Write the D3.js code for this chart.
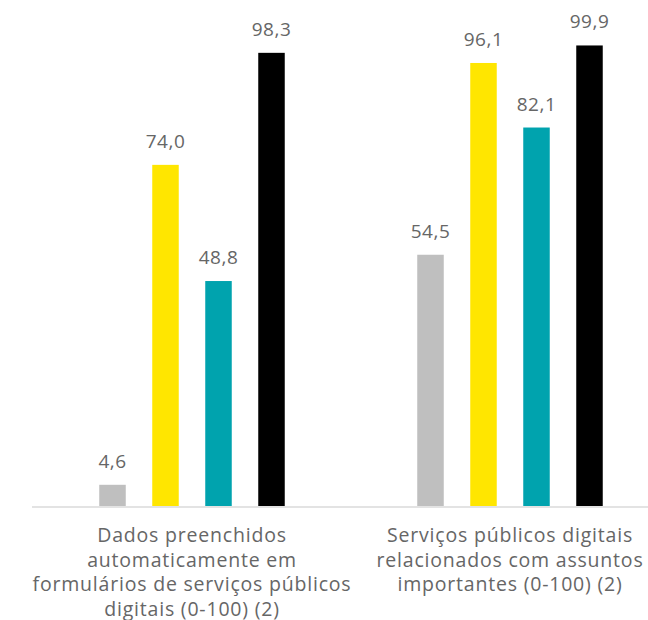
<!DOCTYPE html>
<html>
<head>
    <meta charset="utf-8">
    <title></title>
    <script src="https://d3js.org/d3.v7.min.js"></script>
    <style>
        body { margin: 0; background: #fff; }
        text { font-family: "Open Sans", sans-serif; }
    </style>
</head>
<body>
    <svg id="chart" width="648" height="620"></svg>

    <script>
    // categories (each label split in lines)
    let categories = [
        ["Dados preenchidos", "automaticamente em", "formulários de serviços públicos", "digitais (0-100) (2)"],
        ["Serviços públicos digitais", "relacionados com assuntos", "importantes (0-100) (2)"]
    ];
    let series = ["s1", "s2", "s3", "s4"];
    let colors = ["#bfbfbf", "#ffe600", "#00a3ae", "#000000"];
    // values by category, in series order
    let values = [
        [4.6, 74.0, 48.8, 98.3],
        [54.5, 96.1, 82.1, 99.9]
    ];

    let svg = d3.select("#chart");

    let x0 = d3.scaleBand().domain(d3.range(categories.length)).range([33, 669]);
    let x1 = d3.scaleBand().domain(series)
        .range([x0.bandwidth() / 2 - 106, x0.bandwidth() / 2 + 106])
        .paddingInner(0.5).paddingOuter(0.25);
    let y = d3.scaleLinear().domain([0, 100]).range([506, 45]);

    // baseline
    svg.append("line")
        .attr("x1", 32).attr("x2", 648)
        .attr("y1", y(0) + 1).attr("y2", y(0) + 1)
        .attr("stroke", "#e3e3e3").attr("stroke-width", 2);

    let groups = svg.selectAll("g.grp").data(values).enter().append("g")
        .attr("class", "grp")
        .attr("transform", (d, i) => "translate(" + x0(i) + ",0)");

    groups.selectAll("rect").data(d => d).enter().append("rect")
        .attr("x", (d, j) => x1(series[j]))
        .attr("width", x1.bandwidth())
        .attr("y", d => y(d))
        .attr("height", d => y(0) - y(d))
        .attr("fill", (d, j) => colors[j]);

    groups.selectAll("text.val").data(d => d).enter().append("text")
        .attr("class", "val")
        .attr("x", (d, j) => x1(series[j]) + x1.bandwidth() / 2)
        .attr("y", d => y(d) - 17)
        .attr("text-anchor", "middle")
        .attr("font-size", 19)
        .attr("letter-spacing", 0.5)
        .attr("fill", "#666666")
        .text(d => d.toFixed(1).replace(".", ","));

    // category labels
    svg.selectAll("text.cat").data(categories).enter().append("text")
        .attr("class", "cat")
        .attr("text-anchor", "middle")
        .attr("font-size", 19.5)
        .attr("letter-spacing", 0.8)
        .attr("fill", "#666666")
        .each(function(d, i) {
            d3.select(this).selectAll("tspan").data(d).enter().append("tspan")
                .attr("x", x0(i) + x0.bandwidth() / 2)
                .attr("y", (t, k) => 542 + k * 24.5)
                .text(t => t);
        });
    </script>
</body>
</html>
